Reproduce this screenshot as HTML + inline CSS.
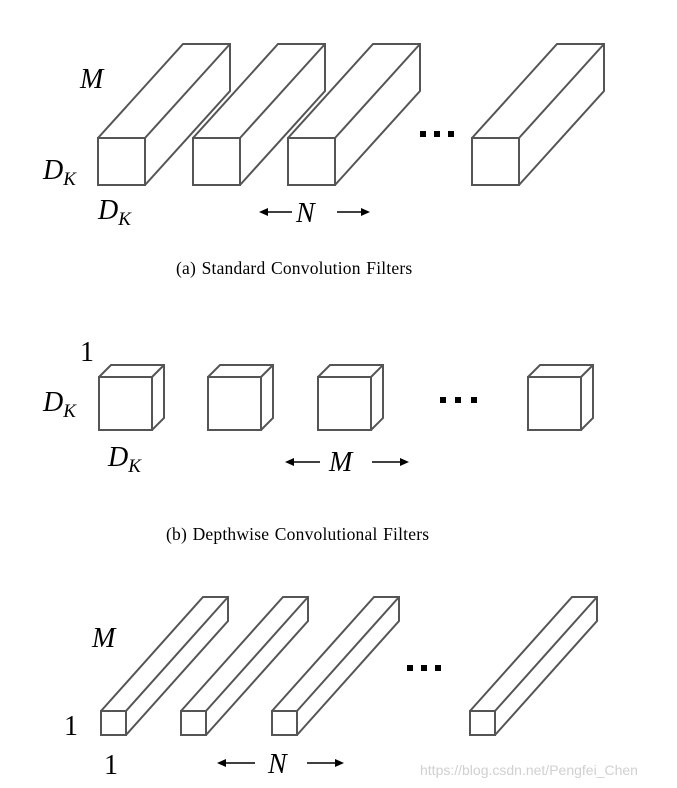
<!DOCTYPE html>
<html><head><meta charset="utf-8"><style>
html,body{margin:0;padding:0;background:#fff;}
svg{display:block;}
text{font-family:"Liberation Serif",serif;fill:#000;}
.m{font-style:italic;font-size:28px;}
.cap{font-size:17.5px;letter-spacing:0.2px;word-spacing:1px;}
</style></head><body>
<svg id="s" width="677" height="788" viewBox="0 0 677 788" xmlns="http://www.w3.org/2000/svg">
<g id="g" fill="#fff" stroke="#555" stroke-width="2" stroke-linejoin="miter"></g>
<g fill="#000">
<rect x="420" y="131" width="6" height="6"/><rect x="434" y="131" width="6" height="6"/><rect x="448" y="131" width="6" height="6"/>
<rect x="440" y="397" width="6" height="6"/><rect x="455" y="397" width="6" height="6"/><rect x="471" y="397" width="6" height="6"/>
<rect x="407" y="665" width="6" height="6"/><rect x="421" y="665" width="6" height="6"/><rect x="435" y="665" width="6" height="6"/>
</g>
<text class="m" x="80" y="88">M</text>
<text class="m" x="43" y="179">D<tspan font-size="19" dy="6">K</tspan></text>
<text class="m" x="98" y="219">D<tspan font-size="19" dy="6">K</tspan></text>
<text class="m" x="296" y="222">N</text>
<text class="cap" x="176" y="274">(a)  Standard Convolution Filters</text>
<text style="font-size:28px" x="80" y="361">1</text>
<text class="m" x="43" y="411">D<tspan font-size="19" dy="6">K</tspan></text>
<text class="m" x="108" y="466">D<tspan font-size="19" dy="6">K</tspan></text>
<text class="m" x="329" y="471">M</text>
<text class="cap" x="166" y="540">(b)  Depthwise Convolutional Filters</text>
<text class="m" x="92" y="647">M</text>
<text style="font-size:28px" x="64" y="735">1</text>
<text style="font-size:28px" x="104" y="774">1</text>
<text class="m" x="268" y="773">N</text>
<g stroke="#000" stroke-width="1.6" fill="#000">
<line x1="265" y1="212" x2="292" y2="212"/><polygon points="259,212 268,208 268,216" stroke="none"/>
<line x1="337" y1="212" x2="364" y2="212"/><polygon points="370,212 361,208 361,216" stroke="none"/>
<line x1="292" y1="462" x2="320" y2="462"/><polygon points="285,462 294,458 294,466" stroke="none"/>
<line x1="372" y1="462" x2="402" y2="462"/><polygon points="409,462 400,458 400,466" stroke="none"/>
<line x1="224" y1="763" x2="255" y2="763"/><polygon points="217,763 226,759 226,767" stroke="none"/>
<line x1="307" y1="763" x2="337" y2="763"/><polygon points="344,763 335,759 335,767" stroke="none"/>
</g>
<text x="420" y="775" style="font-family:'Liberation Sans',sans-serif;font-size:14px;fill:#d0d0d0">https://blog.csdn.net/Pengfei_Chen</text>
</svg>
<script>
var g=document.getElementById('g'),ns='http://www.w3.org/2000/svg';
function el(d){var p=document.createElementNS(ns,'path');p.setAttribute('d',d);g.appendChild(p);}
function box(x,y,w,h,dx,dy){
 el('M'+x+','+y+'L'+(x+dx)+','+(y+dy)+'L'+(x+w+dx)+','+(y+dy)+'L'+(x+w+dx)+','+(y+h+dy)+'L'+(x+w)+','+(y+h));
 el('M'+x+','+y+'h'+w+'v'+h+'h'+(-w)+'Z');
 el('M'+(x+w)+','+y+'L'+(x+w+dx)+','+(y+dy));
}
[98,193,288,472].forEach(function(x){box(x,138,47,47,85,-94);});
[99,208,318,528].forEach(function(x){box(x,377,53,53,12,-12);});
[101,181,272,470].forEach(function(x){box(x,711,25,24,102,-114);});
</script>
</body></html>
